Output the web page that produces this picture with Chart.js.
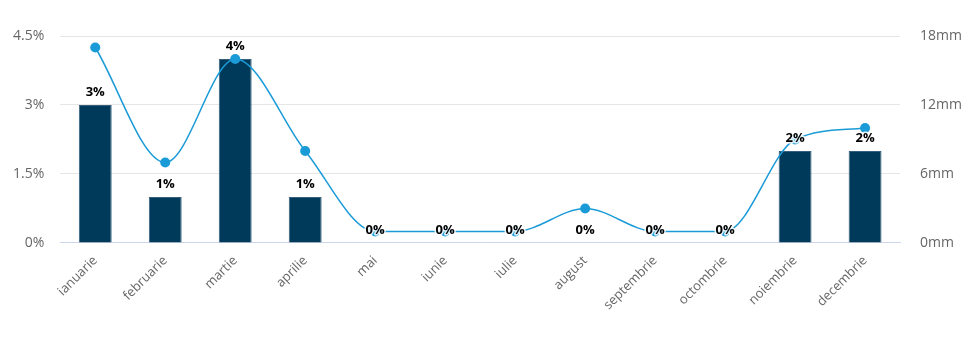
<!DOCTYPE html>
<html>
<head>
<meta charset="utf-8">
<script src="https://cdn.jsdelivr.net/npm/chart.js@4"></script>
<style>
  body { margin: 0; background: #fff; }
</style>
</head>
<body>
<canvas id="chart" width="973" height="363"></canvas>
<script>
// luni
var luni = ["ianuarie", "februarie", "martie", "aprilie", "mai", "iunie", "iulie", "august", "septembrie", "octombrie", "noiembrie", "decembrie"];

// procente (bare, axa stanga)
var procente = [3, 1, 4, 1, 0, 0, 0, 0, 0, 0, 2, 2];

// precipitatii mm (linie, axa dreapta)
var precipitatii = [17, 7, 16, 8, 1, 1, 1, 3, 1, 1, 9, 10];

var fontul = "'Open Sans', 'Noto Sans', sans-serif";

// etichete deasupra barelor
var eticheteBare = {
    id: "eticheteBare",
    afterDatasetsDraw: function (chart) {
        var ctx = chart.ctx;
        var meta = chart.getDatasetMeta(0);
        ctx.save();
        ctx.font = "bold 13px " + fontul;
        ctx.textAlign = "center";
        ctx.textBaseline = "middle";
        ctx.lineJoin = "round";
        meta.data.forEach(function (bar, i) {
            var text = procente[i] + "%";
            ctx.lineWidth = 3;
            ctx.strokeStyle = "rgba(255,255,255,0.85)";
            ctx.strokeText(text, bar.x, bar.y - 13);
            ctx.fillStyle = "#000";
            ctx.fillText(text, bar.x, bar.y - 13);
        });
        ctx.restore();
    }
};

new Chart(document.getElementById("chart"), {
    data: {
        labels: luni,
        datasets: [{
            type: "bar",
            label: "%",
            data: procente,
            backgroundColor: "#003a5a",
            borderColor: "#355f7c",
            borderWidth: 1,
            barPercentage: 0.47,
            categoryPercentage: 1,
            yAxisID: "y",
            order: 2
        },
        {
            type: "line",
            label: "mm",
            data: precipitatii,
            borderColor: "#1a9bd7",
            backgroundColor: "#1a9bd7",
            borderWidth: 1.5,
            cubicInterpolationMode: "monotone",
            pointRadius: 5,
            pointHoverRadius: 5,
            pointBorderWidth: 0,
            yAxisID: "y1",
            order: 1
        }]
    },
    options: {
        responsive: false,
        animation: false,
        layout: { padding: { top: 36, left: -3, right: -1, bottom: 48 } },
        plugins: {
            legend: { display: false },
            tooltip: { enabled: false }
        },
        scales: {
            x: {
                grid: { display: false },
                border: { display: true, color: "#ccd6eb", width: 1 },
                ticks: {
                    color: "#666",
                    font: { family: fontul, size: 13 },
                    maxRotation: 45,
                    minRotation: 45,
                    padding: 2
                }
            },
            y: {
                position: "left",
                min: 0,
                max: 4.5,
                grid: { color: "#e6e6e6", drawTicks: false },
                border: { display: false },
                ticks: {
                    stepSize: 1.5,
                    color: "#666",
                    padding: 16,
                    font: { family: fontul, size: 14 },
                    callback: function (v) { return v + "%"; }
                }
            },
            y1: {
                position: "right",
                min: 0,
                max: 18,
                grid: { display: false },
                border: { display: false },
                ticks: {
                    stepSize: 6,
                    color: "#666",
                    padding: 12,
                    font: { family: fontul, size: 14 },
                    callback: function (v) { return v + "mm"; }
                }
            }
        }
    },
    plugins: [eticheteBare]
});
</script>
</body>
</html>
